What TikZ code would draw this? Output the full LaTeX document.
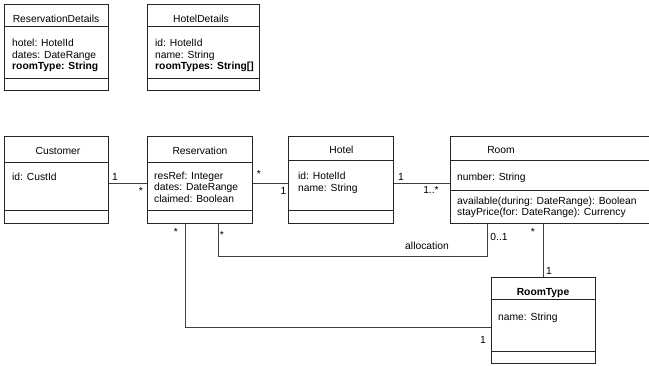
\documentclass[tikz,border=0pt]{standalone}
\usepackage{fontspec}
\setmainfont{Liberation Sans}
\usepackage{tikz}
\usetikzlibrary{calc}

\begin{document}
\begin{tikzpicture}[x=1pt,y=-1pt,
  classbox/.style={draw=black!85,line width=0.9pt,anchor=north west,inner sep=0pt},
  divider/.style={draw=black!85,line width=0.9pt},
  link/.style={draw=black!75,line width=0.9pt},
  title/.style={anchor=base,inner sep=0pt,font=\fontsize{10.3}{11.3}\selectfont},
  attrs/.style={anchor=north west,inner sep=0pt,align=left,font=\fontsize{10.3}{11.3}\selectfont},
  mult/.style={anchor=base,inner sep=0pt,font=\fontsize{10.3}{11.3}\selectfont}]
\useasboundingbox (0,0) rectangle (649,365);
\clip (0,0) rectangle (649,365);

\node[classbox,minimum width=104pt,minimum height=86pt] (resdet) at (4,4) {};
\draw[divider] ([yshift=-22pt]resdet.north west) -- ([yshift=-22pt]resdet.north east);
\draw[divider] ([yshift=-74pt]resdet.north west) -- ([yshift=-74pt]resdet.north east);
\node[title] (resdettitle) at (56,22.2) {ReservationDetails};
\node[attrs] (resdetattr) at (12,39.2) {hotel: HotelId\\dates: DateRange\\\textbf{roomType: String}};

\node[classbox,minimum width=112pt,minimum height=86pt] (hoteldet) at (147,4) {};
\draw[divider] ([yshift=-22pt]hoteldet.north west) -- ([yshift=-22pt]hoteldet.north east);
\draw[divider] ([yshift=-74pt]hoteldet.north west) -- ([yshift=-74pt]hoteldet.north east);
\node[title] (hoteldettitle) at (201,22.2) {HotelDetails};
\node[attrs] (hoteldetattr) at (155,39.2) {id: HotelId\\name: String\\\textbf{roomTypes: String[]}};

\node[classbox,minimum width=104pt,minimum height=87pt] (cust) at (4,136) {};
\draw[divider] ([yshift=-26pt]cust.north west) -- ([yshift=-26pt]cust.north east);
\draw[divider] ([yshift=-74pt]cust.north west) -- ([yshift=-74pt]cust.north east);
\node[title] (custtitle) at (58,154.7) {Customer};
\node[attrs] (custattr) at (12,172.8) {id: CustId};

\node[classbox,minimum width=105pt,minimum height=87pt] (res) at (147,136) {};
\draw[divider] ([yshift=-26pt]res.north west) -- ([yshift=-26pt]res.north east);
\draw[divider] ([yshift=-74pt]res.north west) -- ([yshift=-74pt]res.north east);
\node[title] (restitle) at (200,154.7) {Reservation};
\node[attrs] (resattr) at (154,171.8) {resRef: Integer\\dates: DateRange\\claimed: Boolean};

\node[classbox,minimum width=105pt,minimum height=87pt] (hotel) at (288,136) {};
\draw[divider] ([yshift=-24pt]hotel.north west) -- ([yshift=-24pt]hotel.north east);
\draw[divider] ([yshift=-74pt]hotel.north west) -- ([yshift=-74pt]hotel.north east);
\node[title] (hoteltitle) at (341.5,153.7) {Hotel};
\node[attrs] (hotelattr) at (298,172.2) {id: HotelId\\name: String};

\node[classbox,minimum width=220pt,minimum height=87pt] (room) at (450,136) {};
\draw[divider] ([yshift=-24pt]room.north west) -- ([yshift=-24pt]room.north east);
\draw[divider] ([yshift=-54pt]room.north west) -- ([yshift=-54pt]room.north east);
\node[title] (roomtitle) at (501,153.7) {Room};
\node[attrs] (roomattr) at (457,172.8) {number: String};
\node[attrs] (roomops) at (457,196.8) {available(during: DateRange): Boolean\\stayPrice(for: DateRange): Currency};

\node[classbox,minimum width=104pt,minimum height=86pt] (rtype) at (491,277) {};
\draw[divider] ([yshift=-22pt]rtype.north west) -- ([yshift=-22pt]rtype.north east);
\draw[divider] ([yshift=-74pt]rtype.north west) -- ([yshift=-74pt]rtype.north east);
\node[title] (rtypetitle) at (543,295.4) {\textbf{RoomType}};
\node[attrs] (rtypeattr) at (498,312.8) {name: String};

\draw[link] ([yshift=-3pt]cust.east) -- ([yshift=-3pt]res.west);
\draw[link] ([yshift=-3pt]res.east) -- ([yshift=-3pt]res.east -| hotel.west);
\draw[link] ([yshift=-3pt]hotel.east) -- ([yshift=-3pt]hotel.east -| room.west);
\draw[link] ([xshift=71pt]res.south west) -- ++(0,33) -| ([xshift=37pt]room.south west);
\draw[link] (rtype.north) -- (rtype.north |- room.south);
\draw[link] ([xshift=38pt]res.south west) |- ([yshift=-7pt]rtype.west);

\node[mult] (m1) at (115,180.5) {1};
\node[mult] (m2) at (141,194.5) {*};
\node[mult] (m3) at (259,177) {*};
\node[mult] (m4) at (283.5,194.5) {1};
\node[mult] (m5) at (401,180.3) {1};
\node[mult] (m6) at (431,193.6) {1..*};
\node[mult] (m7) at (176,235.5) {*};
\node[mult] (m8) at (222,238) {*};
\node[mult] (alloc) at (427,249.6) {allocation};
\node[mult] (m9) at (499,240.3) {0..1};
\node[mult] (m10) at (533,235.5) {*};
\node[mult] (m11) at (549,274.3) {1};
\node[mult] (m12) at (483,343) {1};
\end{tikzpicture}
\end{document}
